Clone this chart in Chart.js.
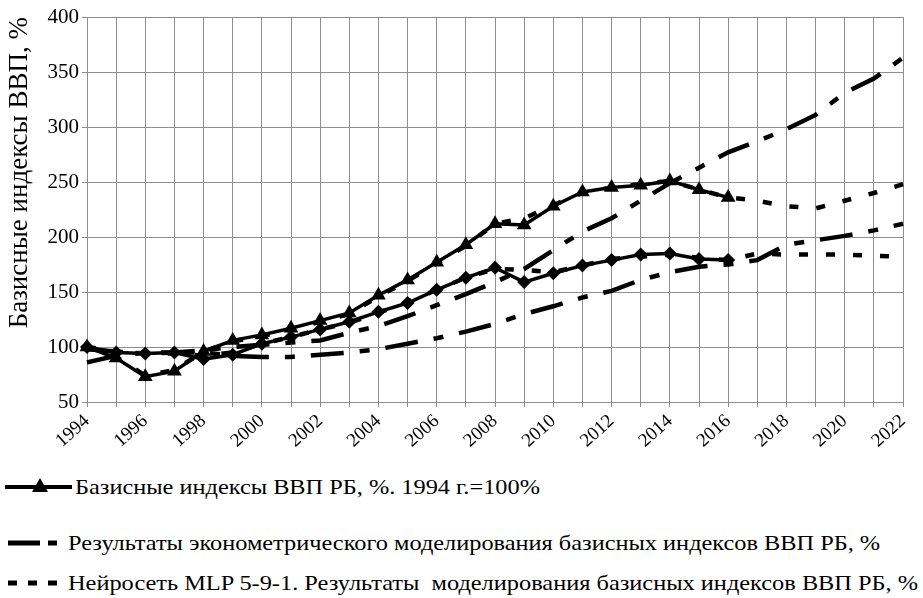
<!DOCTYPE html>
<html>
<head>
<meta charset="utf-8">
<script src="https://cdn.jsdelivr.net/npm/chart.js@4.4.1/dist/chart.umd.min.js"></script>
<style>
  html, body { margin: 0; padding: 0; background: #fff; }
  body { width: 923px; height: 598px; position: relative; overflow: hidden; color: #000; }
  #wrap { position: absolute; left: 0; top: 0; width: 923px; height: 462px; }
  .row { position: absolute; left: 0; height: 26px; white-space: nowrap; }
  .row svg { position: absolute; left: 0; top: 0; }
  .row span { position: absolute; top: 0; font-size: 22px; line-height: 26px;
              transform-origin: left center; display: inline-block; }
</style>
</head>
<body>
<div id="wrap"><canvas id="gdpChart"></canvas></div>

<div class="row" style="top:474px">
  <svg width="80" height="26"><line x1="5" y1="13" x2="72" y2="13" stroke="#000" stroke-width="4"/>
    <polygon points="40,4 48,18 32,18" fill="#000"/></svg>
  <span style="left:75px" data-w="465">Базисные индексы ВВП РБ, %. 1994 г.=100%</span>
</div>
<div class="row" style="top:530px">
  <svg width="70" height="26"><line x1="8" y1="13" x2="40" y2="13" stroke="#000" stroke-width="5"/>
    <line x1="48" y1="13" x2="57" y2="13" stroke="#000" stroke-width="5"/></svg>
  <span style="left:68px" data-w="812">Результаты эконометрического моделирования базисных индексов ВВП РБ, %</span>
</div>
<div class="row" style="top:570px">
  <svg width="70" height="26"><line x1="8" y1="13" x2="17" y2="13" stroke="#000" stroke-width="5"/>
    <line x1="28" y1="13" x2="37" y2="13" stroke="#000" stroke-width="5"/>
    <line x1="48" y1="13" x2="57" y2="13" stroke="#000" stroke-width="5"/></svg>
  <span style="left:68px" data-w="850">Нейросеть MLP 5-9-1. Результаты&nbsp; моделирования базисных индексов ВВП РБ, %</span>
</div>

<script>
const years = [];
for (let y = 1994; y <= 2022; y++) years.push(y);

// actual values, 1994-2016
const gdpTriangle = [100, 90, 73, 78, 96, 106, 111, 117, 124, 131, 147, 161, 177, 193, 212, 211, 228, 241, 245, 247, 251, 243, 236];
const gdpDiamond = [100, 95, 94, 95, 89, 93, 103, 109, 116, 123, 132, 140, 152, 163, 172, 159, 167, 174, 179, 184, 185, 180, 179];

// econometric models, 1994-2022
const econUpper = [98, 96, 94, 95, 97, 100, 102, 104, 106, 113, 119, 128, 138, 148, 159, 171, 188, 205, 217, 233, 249, 263, 277, 287, 298, 311, 331, 344, 363];
const econLower = [86, 92, 95, 95, 95, 92, 91, 91, 93, 95, 98, 103, 108, 114, 121, 130, 137, 145, 151, 161, 168, 173, 175, 179, 193, 197, 201, 206, 212];

// MLP 5-9-1 models, 1994-2022
const mlpUpper = [100, 91, 74, 79, 96, 105, 110, 116, 123, 130, 146, 160, 176, 192, 212, 217, 229, 240, 245, 248, 251, 243, 236, 233, 228, 226, 233, 240, 248];
const mlpLower = [100, 96, 94, 94, 92, 95, 103, 109, 116, 122, 131, 141, 152, 163, 171, 170, 168, 174, 180, 182, 184, 181, 179, 185, 184, 184, 184, 183, 182];

const yTicks = [50, 100, 150, 200, 250, 300, 350, 400];

// pick a Times-like face that is really installed
function pickFont() {
  const c = document.createElement('canvas').getContext('2d');
  const probe = 'Базисные индексы 1994 MLPwmi';
  const widthOf = f => { c.font = '40px ' + f; return c.measureText(probe).width; };
  const mono = widthOf('monospace');
  const list = ['Liberation Serif', 'Tinos', 'Times New Roman', 'Nimbus Roman', 'FreeSerif', 'DejaVu Serif', 'Noto Serif', 'Liberation Sans Narrow', 'Liberation Sans'];
  for (const f of list) {
    const w1 = widthOf('"' + f + '", monospace'), w2 = widthOf('"' + f + '", sans-serif');
    if (w1 === w2 && w1 !== mono) return '"' + f + '"';
  }
  return 'serif';
}

const gridColor = '#8f8f8f';

function solid(data, style, radius) {
  return {
    data, borderColor: '#000', backgroundColor: '#000', borderWidth: 3.5,
    pointStyle: style, pointRadius: radius, pointBorderWidth: 0,
    pointBackgroundColor: '#000', tension: 0
  };
}
function dashed(data, dash) {
  return {
    data, borderColor: '#000', borderWidth: 4.5, borderDash: dash,
    borderCapStyle: 'butt', pointRadius: 0, tension: 0
  };
}

const face = pickFont();
document.body.style.fontFamily = face + ', serif';

new Chart(document.getElementById('gdpChart'), {
  type: 'line',
  data: {
    labels: years,
    datasets: [
      solid(gdpTriangle, 'triangle', 8.5),
      solid(gdpDiamond, 'rectRot', 7),
      dashed(econUpper, [33, 16, 10, 16]),
      dashed(econLower, [33, 16, 10, 16]),
      dashed(mlpUpper, [9, 18]),
      dashed(mlpLower, [9, 18])
    ]
  },
  options: {
    responsive: true,
    maintainAspectRatio: false,
    animation: false,
    layout: { padding: { left: 4, right: 20, top: 17, bottom: 0 } },
    plugins: { legend: { display: false }, tooltip: { enabled: false } },
    scales: {
      x: {
        grid: { color: gridColor, lineWidth: 1, tickLength: 5 },
        border: { color: gridColor },
        ticks: {
          autoSkip: false, maxRotation: 42, minRotation: 42,
          color: '#000', font: { family: face, size: 19 },
          callback: function (v, i) { return years[i] % 2 === 0 ? String(years[i]) : ''; }
        },
        afterFit: s => { s.height = 60; }
      },
      y: {
        min: 50, max: 400,
        grid: { color: gridColor, lineWidth: 1, tickLength: 5 },
        border: { color: gridColor },
        ticks: {
          stepSize: 50, color: '#000', font: { family: face, size: 21 },
          callback: v => yTicks.includes(v) ? String(v) : ''
        },
        title: {
          display: true, text: 'Базисные индексы ВВП, %', align: 'end',
          color: '#000', font: { family: face, size: 27 }, padding: { top: 0, bottom: 2 }
        },
        afterFit: s => { s.width = 83; }
      }
    }
  }
});

document.querySelectorAll('.row span').forEach(el => {
  const target = Number(el.dataset.w);
  const w = el.getBoundingClientRect().width;
  if (w > 0) el.style.transform = 'scaleX(' + (target / w).toFixed(3) + ')';
});
</script>
</body>
</html>
